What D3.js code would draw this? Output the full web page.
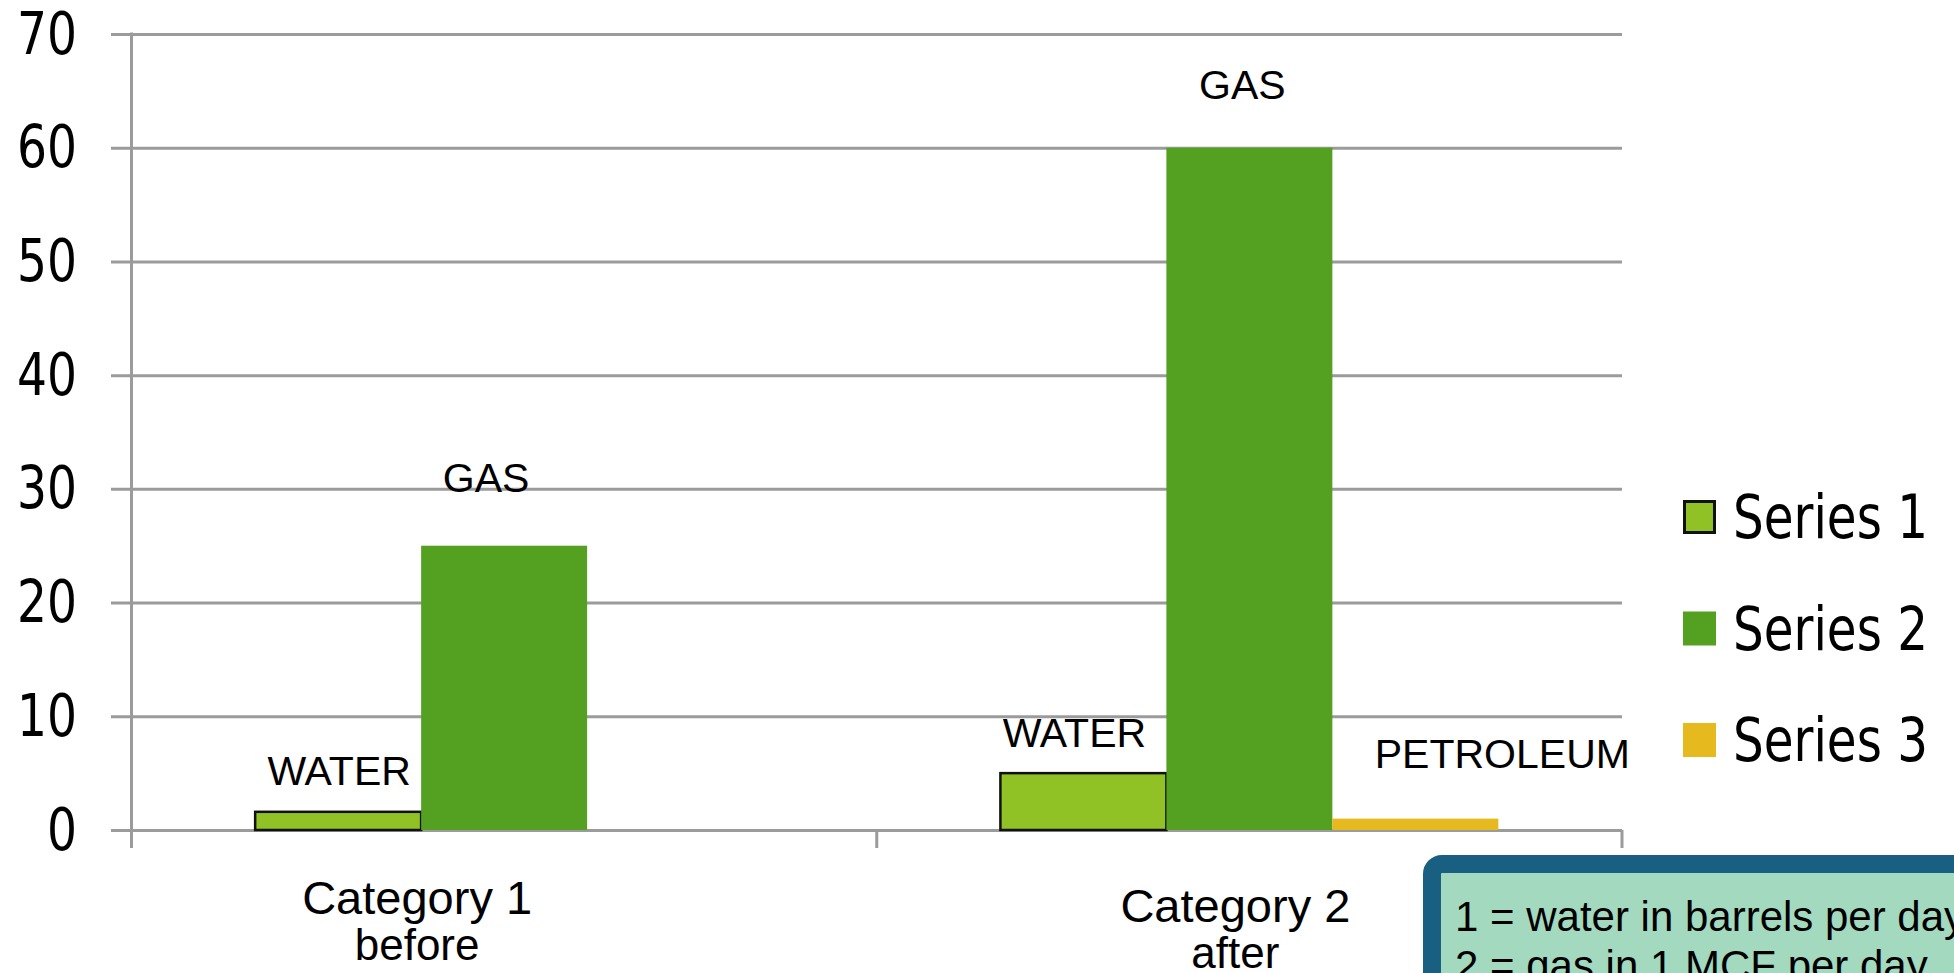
<!DOCTYPE html>
<html>
<head>
<meta charset="utf-8">
<script src="https://cdn.jsdelivr.net/npm/d3@7"></script>
<style>
  html, body { margin: 0; padding: 0; background: #ffffff; overflow: hidden; }
  svg { display: block; }
  .tick-label, .legend-label { font-family: "DejaVu Sans Condensed", "DejaVu Sans", sans-serif; fill: #000; }
  .bar-label, .cat-label, .note { font-family: "Liberation Sans", Arial, sans-serif; fill: #000; }
</style>
</head>
<body>
<svg id="chart" width="1954" height="973"></svg>
<script>
// ---- data ----
const categories = ["Category 1", "Category 2"];
const categorySubLabels = ["before", "after"];
const seriesNames = ["Series 1", "Series 2", "Series 3"];
const series1 = [1.6, 5];   // water, barrels per day
const series2 = [25, 60];   // gas, MCF per day
const series3 = [0, 1];     // petroleum
const yTicks = [0, 10, 20, 30, 40, 50, 60, 70];
const barLabels = [["WATER", "GAS", ""], ["WATER", "GAS", "PETROLEUM"]];
const noteLines = ["1 = water in barrels per day", "2 = gas in 1 MCF per day"];

// ---- layout ----
const W = 1954, H = 973;
const plot = { left: 131.5, right: 1622, top: 34, bottom: 830 };
const colors = ["#90C226", "#54A021", "#E6B91E"];
// label nudges relative to bar centre / bar top
const labelNudge = [
  [{ dx: 1, dy: -27 }, { dx: -18, dy: -54 }, { dx: 0, dy: 0 }],
  [{ dx: -9, dy: -26 }, { dx: -7, dy: -49 }, { dx: 87, dy: -51 }]
];
const catNudge = [{ dx: -87, y1: 914, y2: 960 }, { dx: -14, y1: 922, y2: 968 }];

const svg = d3.select("#chart");

const y = d3.scaleLinear().domain([0, 70]).range([plot.bottom, plot.top]);
const x0 = d3.scaleBand().domain(categories).range([plot.left, plot.right]).padding(0);
const x1 = d3.scaleBand().domain(seriesNames).range([0, x0.bandwidth()])
  .paddingInner(0).paddingOuter(0.745);

const seriesValues = [series1, series2, series3];
const rows = categories.map((c, i) => ({
  cat: c,
  i,
  values: seriesNames.map((s, j) => ({ s, j, v: seriesValues[j][i], label: barLabels[i][j] }))
}));

// gridlines + y tick labels (ticks reach 20px left of the axis line)
const gridLen = plot.right - (plot.left - 20.5);
const yAxis = d3.axisLeft(y).tickValues(yTicks).tickSize(gridLen).tickPadding(34);
const gy = svg.append("g").attr("transform", `translate(${plot.right},0)`).call(yAxis);
gy.select(".domain").remove();
gy.attr("font-family", null).attr("font-size", null);
gy.selectAll(".tick line").attr("stroke", "#9b9b9b").attr("stroke-width", 3);
gy.selectAll(".tick text").attr("class", "tick-label").attr("font-size", 58)
  .attr("dy", "0.33em")
  .attr("textLength", d => String(d).length * 30)
  .attr("lengthAdjust", "spacingAndGlyphs");

// vertical axis line
svg.append("line")
  .attr("x1", plot.left).attr("x2", plot.left)
  .attr("y1", y(70) - 1.5).attr("y2", plot.bottom + 18)
  .attr("stroke", "#9b9b9b").attr("stroke-width", 3);

// category boundary ticks along the bottom
const edges = [x0.range()[0]].concat(categories.map(c => x0(c) + x0.bandwidth()));
svg.append("g").selectAll("line").data(edges).join("line")
  .attr("x1", d => d).attr("x2", d => d)
  .attr("y1", plot.bottom).attr("y2", plot.bottom + 18)
  .attr("stroke", "#9b9b9b").attr("stroke-width", 3);

// bars
const groups = svg.append("g").selectAll("g").data(rows).join("g")
  .attr("transform", d => `translate(${x0(d.cat)},0)`);

groups.selectAll("rect").data(d => d.values.filter(v => v.v > 0)).join("rect")
  .attr("x", d => x1(d.s))
  .attr("y", d => y(d.v))
  .attr("width", x1.bandwidth())
  .attr("height", d => y(0) - y(d.v))
  .attr("fill", d => colors[d.j])
  .attr("stroke", d => d.j === 0 ? "#111" : "none")
  .attr("stroke-width", d => d.j === 0 ? 2.5 : 0);

// bar labels
groups.each(function (row) {
  d3.select(this).selectAll("text").data(row.values.filter(v => v.label)).join("text")
    .attr("class", "bar-label")
    .attr("x", d => x1(d.s) + x1.bandwidth() / 2 + labelNudge[row.i][d.j].dx)
    .attr("y", d => y(d.v) + labelNudge[row.i][d.j].dy)
    .attr("text-anchor", "middle")
    .attr("font-size", 41)
    .text(d => d.label);
});

// category labels
const cl = svg.append("g").selectAll("g").data(categories).join("g");
cl.append("text").attr("class", "cat-label")
  .attr("x", (d, i) => x0(d) + x0.bandwidth() / 2 + catNudge[i].dx)
  .attr("y", (d, i) => catNudge[i].y1)
  .attr("text-anchor", "middle").attr("font-size", 47)
  .text(d => d);
cl.append("text").attr("class", "cat-label")
  .attr("x", (d, i) => x0(d) + x0.bandwidth() / 2 + catNudge[i].dx)
  .attr("y", (d, i) => catNudge[i].y2)
  .attr("text-anchor", "middle").attr("font-size", 44)
  .text((d, i) => categorySubLabels[i]);

// legend
const legend = svg.append("g").attr("transform", "translate(1683,500)");
const li = legend.selectAll("g").data(seriesNames).join("g")
  .attr("transform", (d, i) => `translate(0,${i * 111.5})`);
li.append("rect")
  .attr("x", (d, i) => i === 0 ? 1.5 : 0).attr("y", (d, i) => i === 0 ? 1.5 : 0)
  .attr("width", (d, i) => i === 0 ? 30 : 33).attr("height", (d, i) => i === 0 ? 31 : 34)
  .attr("fill", (d, i) => colors[i])
  .attr("stroke", (d, i) => i === 0 ? "#111" : "none")
  .attr("stroke-width", 3);
li.append("text").attr("class", "legend-label")
  .attr("x", 50).attr("y", 38).attr("font-size", 60)
  .attr("textLength", 195).attr("lengthAdjust", "spacingAndGlyphs")
  .text(d => d);

// note box
const note = svg.append("g");
note.append("rect")
  .attr("x", 1432).attr("y", 864).attr("width", 600).attr("height", 220)
  .attr("rx", 10).attr("ry", 10)
  .attr("fill", "#A2D9BF").attr("stroke", "#185F81").attr("stroke-width", 18);
note.selectAll("text").data(noteLines).join("text")
  .attr("class", "note")
  .attr("x", 1455).attr("y", (d, i) => 931 + i * 49)
  .attr("font-size", 42)
  .text(d => d);
</script>
</body>
</html>
